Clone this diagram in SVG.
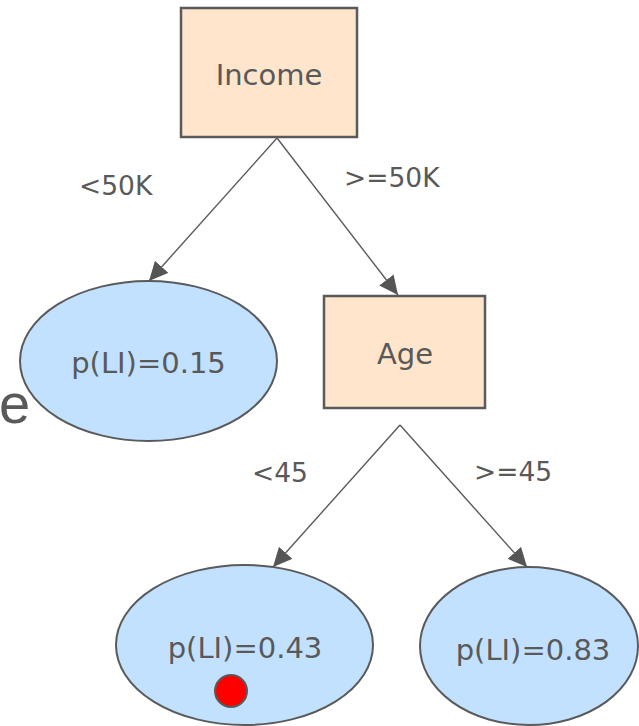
<svg xmlns="http://www.w3.org/2000/svg" width="639" height="726" viewBox="0 0 639 726">
<style>
.box{fill:#FFE5CC;stroke:#5a5a5a;stroke-width:2.5}
.leaf{fill:#C2E1FF;stroke:#5a5a5a;stroke-width:2}
.t{font-family:"DejaVu Sans",Verdana,sans-serif;font-size:29px;fill:#595959;text-anchor:middle}
.lbl{font-family:"DejaVu Sans",Verdana,sans-serif;font-size:26.5px;fill:#595959}
.edge{stroke:#5a5a5a;stroke-width:1.4;fill:none}
</style>
<defs>
<marker id="ah" markerUnits="userSpaceOnUse" markerWidth="22" markerHeight="18" viewBox="0 0 22 18" refX="19" refY="9" orient="auto">
<path d="M0,0 L19,9 L0,18 Z" fill="#555"/>
</marker>
</defs>
<text x="-1" y="423" font-family="Liberation Sans,Arial,sans-serif" font-size="56" fill="#595959">e</text>
<g id="edges">
<line class="edge" x1="277" y1="138" x2="149" y2="281" marker-end="url(#ah)"/>
<line class="edge" x1="277" y1="138" x2="398" y2="295" marker-end="url(#ah)"/>
<line class="edge" x1="400" y1="425" x2="273" y2="567" marker-end="url(#ah)"/>
<line class="edge" x1="400" y1="425" x2="527" y2="567" marker-end="url(#ah)"/>
<text class="lbl" x="79" y="195">&lt;50K</text>
<text class="lbl" x="344" y="187">&gt;=50K</text>
<text class="lbl" x="252" y="482">&lt;45</text>
<text class="lbl" x="474" y="481">&gt;=45</text>
</g>
<g id="income">
<rect class="box" x="181" y="8" width="176" height="129"/>
<text class="t" x="269" y="85">Income</text>
</g>
<g id="leaf1">
<ellipse class="leaf" cx="148.5" cy="361" rx="128.5" ry="80"/>
<text class="t" x="148.5" y="373">p(LI)=0.15</text>
</g>
<g id="age">
<rect class="box" x="324" y="296" width="161" height="112"/>
<text class="t" x="405" y="364">Age</text>
</g>
<g id="leaf2">
<ellipse class="leaf" cx="244.5" cy="645" rx="128.5" ry="80"/>
<text class="t" x="245" y="658">p(LI)=0.43</text>
<circle cx="231" cy="691" r="16" fill="#FF0000" stroke="#5a5a5a" stroke-width="2"/>
</g>
<g id="leaf3">
<ellipse class="leaf" cx="529" cy="646" rx="109" ry="79"/>
<text class="t" x="533" y="660">p(LI)=0.83</text>
</g>
</svg>
